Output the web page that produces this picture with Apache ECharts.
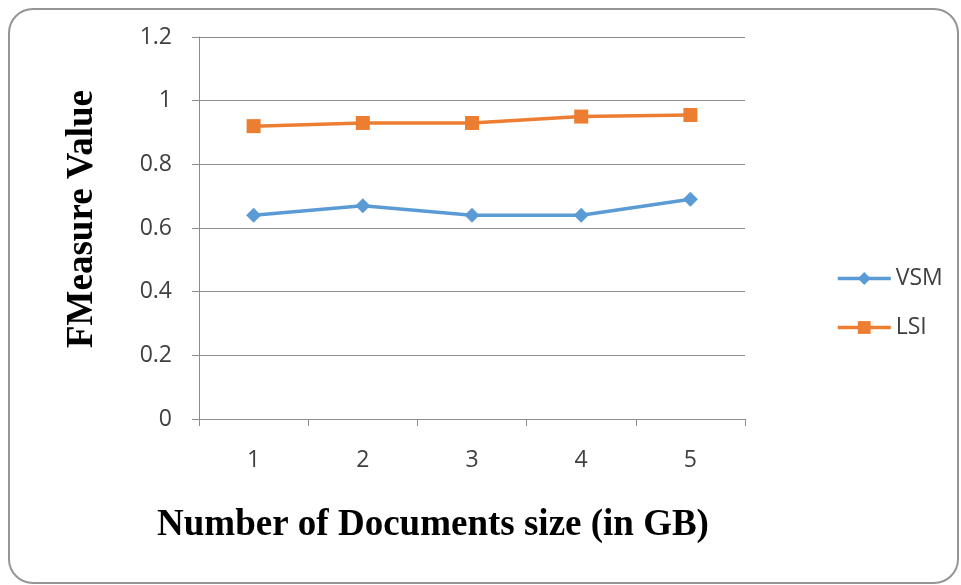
<!DOCTYPE html>
<html>
<head>
<meta charset="utf-8">
<style>
html,body{margin:0;padding:0;background:#fff;}
#chart{width:961px;height:585px;}
</style>
<script src="https://cdn.jsdelivr.net/npm/echarts@6/dist/echarts.min.js"></script>
</head>
<body>
<div id="chart"></div>
<script>
var categories = ['1', '2', '3', '4', '5'];
var vsmValues = [0.64, 0.67, 0.64, 0.64, 0.69];
var lsiValues = [0.92, 0.93, 0.93, 0.95, 0.955];
var yTicks = { min: 0, max: 1.2, interval: 0.2 };
var xTitle = 'Number of Documents size (in GB)';
var yTitle = 'FMeasure Value';

var chart = echarts.init(document.getElementById('chart'), null, { renderer: 'canvas' });
var gridColor = '#8c8c8c';
var labelFont = { fontFamily: 'Open Sans', fontSize: 23, color: '#404040' };
chart.setOption({
  animation: false,
  backgroundColor: '#ffffff',
  grid: { left: 199, top: 37, right: 216, bottom: 166, containLabel: false },
  legend: {
    orient: 'vertical',
    left: 831,
    top: 262,
    itemWidth: 53,
    itemHeight: 16,
    itemGap: 26,
    lineStyle: { width: 3.5 },
    textStyle: { fontFamily: 'Open Sans', fontSize: 23, color: '#404040', padding: [0, 0, 0, 0] },
    data: ['VSM', 'LSI']
  },
  xAxis: {
    type: 'category',
    data: categories,
    boundaryGap: true,
    axisLine: { lineStyle: { color: gridColor, width: 1 } },
    axisTick: { show: true, length: 7, alignWithLabel: false, lineStyle: { color: gridColor } },
    axisLabel: Object.assign({ margin: 30 }, labelFont),
    splitLine: { show: false }
  },
  yAxis: {
    type: 'value',
    min: yTicks.min,
    max: yTicks.max,
    interval: yTicks.interval,
    axisLine: { show: true, lineStyle: { color: gridColor, width: 1 } },
    axisTick: { show: true, length: 7, inside: false, lineStyle: { color: gridColor } },
    axisLabel: Object.assign({ margin: 27, formatter: function (v) { return String(Math.round(v * 10) / 10); } }, labelFont),
    splitLine: { show: true, lineStyle: { color: gridColor, width: 1 } }
  },
  series: [
    {
      name: 'VSM',
      type: 'line',
      data: vsmValues,
      symbol: 'diamond',
      symbolSize: 15,
      lineStyle: { color: '#5B9BD5', width: 3.5 },
      itemStyle: { color: '#5B9BD5' }
    },
    {
      name: 'LSI',
      type: 'line',
      data: lsiValues,
      symbol: 'rect',
      symbolSize: 14,
      lineStyle: { color: '#ED7D31', width: 3.5 },
      itemStyle: { color: '#ED7D31' }
    }
  ],
  graphic: [
    {
      type: 'rect',
      shape: { x: 9, y: 9, width: 949, height: 574, r: 24 },
      style: { fill: 'none', stroke: '#959595', lineWidth: 2 },
      z: -1
    },
    {
      type: 'text',
      x: 433, y: 525,
      style: { text: xTitle, font: 'bold 37px "Liberation Serif"', fill: '#000', align: 'center', verticalAlign: 'middle' }
    },
    {
      type: 'text',
      x: 82, y: 219,
      rotation: Math.PI / 2,
      style: { text: yTitle, font: 'bold 37px "Liberation Serif"', fill: '#000', align: 'center', verticalAlign: 'middle' }
    }
  ]
});
</script>
</body>
</html>
